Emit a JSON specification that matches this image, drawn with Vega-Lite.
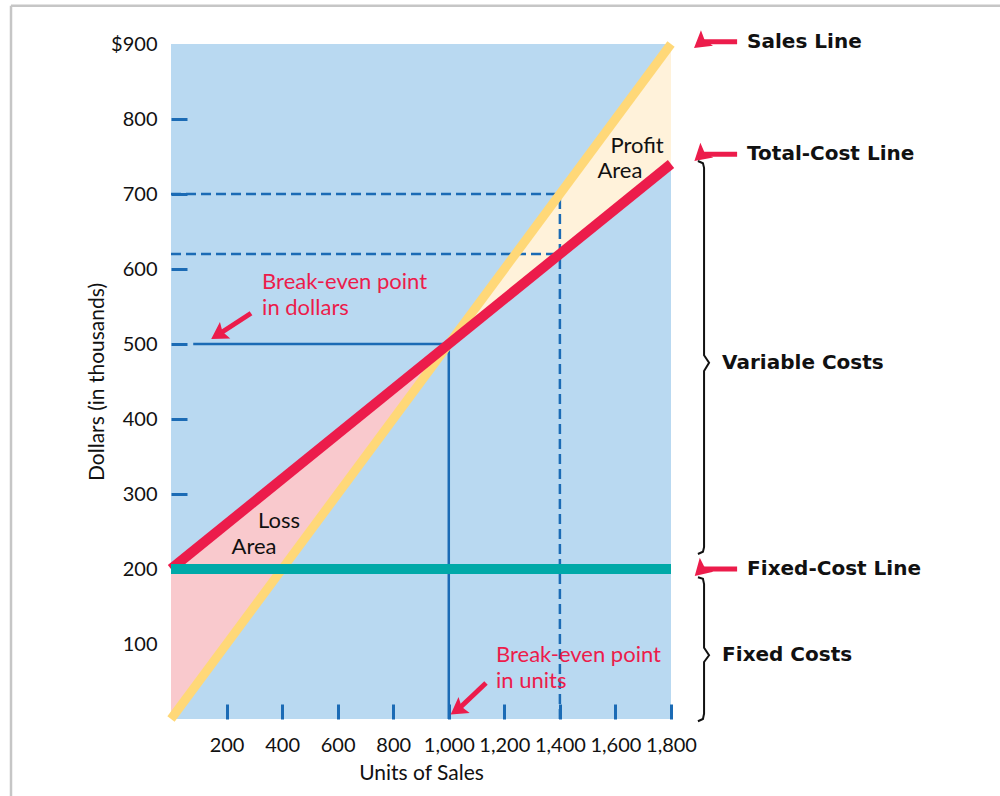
{
  "$schema": "https://vega.github.io/schema/vega-lite/v6.json",
  "autosize": "none",
  "width": 500,
  "height": 675,
  "padding": {"left": 171, "top": 44, "right": 329, "bottom": 77},
  "background": "white",
  "config": {
    "view": {"fill": "#B9D9F1", "stroke": null},
    "font": "Lato",
    "text": {"font": "Lato"}
  },
  "encoding": {
    "x": {
      "field": "units", "type": "quantitative",
      "scale": {"domain": [0, 1800], "nice": false, "zero": false},
      "axis": {
        "values": [200, 400, 600, 800, 1000, 1200, 1400, 1600, 1800],
        "format": ",.0f",
        "labelOverlap": false, "labelFlush": false, "labelBound": false,
        "domain": false, "grid": false,
        "tickColor": "#1B6BB5", "tickWidth": 3, "tickSize": -15,
        "labelPadding": 31, "labelFont": "Lato", "labelFontSize": 20, "labelColor": "#111",
        "title": "Units of Sales", "titleFont": "Lato", "titleFontSize": 21, "titleFontWeight": "normal",
        "titleColor": "#111", "titlePadding": 7
      }
    },
    "y": {
      "field": "dollars", "type": "quantitative",
      "scale": {"domain": [0, 900], "nice": false, "zero": false},
      "axis": {
        "values": [100, 200, 300, 400, 500, 600, 700, 800, 900],
        "labelExpr": "datum.value === 900 ? '$900' : datum.label",
        "labelOverlap": false, "labelFlush": false, "labelBound": false,
        "domain": false, "grid": false,
        "tickColor": "#1B6BB5", "tickWidth": 3, "tickSize": -16,
        "tickOpacity": {"condition": {"test": "datum.value === 900", "value": 0}, "value": 1},
        "labelPadding": 30, "labelFont": "Lato", "labelFontSize": 20, "labelColor": "#111",
        "title": "Dollars (in thousands)", "titleFont": "Lato", "titleFontSize": 21, "titleFontWeight": "normal",
        "titleColor": "#111", "titlePadding": 3
      }
    }
  },
  "layer": [
    {
      "data": {"values": [
        {"region": "Loss", "units": 0, "sales": 0, "cost": 200},
        {"region": "Loss", "units": 1000, "sales": 500, "cost": 500},
        {"region": "Profit", "units": 1000, "sales": 500, "cost": 500},
        {"region": "Profit", "units": 1800, "sales": 900, "cost": 740}
      ]},
      "mark": {"type": "area", "stroke": null},
      "encoding": {
        "y": {"field": "sales", "type": "quantitative", "stack": null},
        "y2": {"field": "cost"},
        "color": {"field": "region", "type": "nominal",
          "scale": {"domain": ["Loss", "Profit"], "range": ["#F9C9CD", "#FFF2DA"]}, "legend": null},
        "detail": {"field": "region"}
      }
    },
    {
      "data": {"values": [
        {"units": 0, "units2": 1400, "dollars": 700, "dollars2": 700},
        {"units": 0, "units2": 1400, "dollars": 620, "dollars2": 620},
        {"units": 1400, "units2": 1400, "dollars": 0, "dollars2": 700}
      ]},
      "mark": {"type": "rule", "color": "#1B6BB5", "strokeWidth": 2.5, "strokeDash": [10, 5]},
      "encoding": {"x2": {"field": "units2"}, "y2": {"field": "dollars2"}}
    },
    {
      "data": {"values": [
        {"units": 80, "units2": 1000, "dollars": 500, "dollars2": 500},
        {"units": 1000, "units2": 1000, "dollars": 0, "dollars2": 500}
      ]},
      "mark": {"type": "rule", "color": "#1B6BB5", "strokeWidth": 2.5},
      "encoding": {"x2": {"field": "units2"}, "y2": {"field": "dollars2"}}
    },
    {
      "data": {"values": [
        {"series": "Sales", "units": 0, "dollars": 0},
        {"series": "Sales", "units": 1800, "dollars": 900}
      ]},
      "mark": {"type": "line", "color": "#FFD878", "strokeWidth": 9, "strokeCap": "butt"},
      "encoding": {}
    },
    {
      "data": {"values": [
        {"series": "Total cost", "units": 0, "dollars": 200},
        {"series": "Total cost", "units": 1800, "dollars": 740}
      ]},
      "mark": {"type": "line", "color": "#EC1C4B", "strokeWidth": 10, "strokeCap": "butt"},
      "encoding": {}
    },
    {
      "data": {"values": [
        {"series": "Fixed cost", "units": 0, "dollars": 200},
        {"series": "Fixed cost", "units": 1800, "dollars": 200}
      ]},
      "mark": {"type": "line", "color": "#00A9A8", "strokeWidth": 10, "strokeCap": "butt"},
      "encoding": {}
    },
    {
      "data": {"values": [
        {"arrow": "dollars", "units": 176, "dollars": 514, "units2": 288, "dollars2": 541},
        {"arrow": "units", "units": 1037, "dollars": 14, "units2": 1134, "dollars2": 48},
        {"arrow": "sales", "units": 1912, "dollars": 903, "units2": 2038, "dollars2": 903},
        {"arrow": "total", "units": 1912, "dollars": 753, "units2": 2038, "dollars2": 753},
        {"arrow": "fixed", "units": 1912, "dollars": 200, "units2": 2038, "dollars2": 200}
      ]},
      "layer": [
        {
          "mark": {"type": "rule", "color": "#EC1C4B", "strokeWidth": 5},
          "encoding": {"x2": {"field": "units2"}, "y2": {"field": "dollars2"}}
        },
        {
          "mark": {"type": "point", "shape": "M -1 0 L 0.6 -0.95 L 0.3 0 L 0.6 0.95 Z", "filled": true,
            "color": "#EC1C4B", "opacity": 1, "size": 420},
          "encoding": {
            "angle": {"field": "arrow", "type": "nominal",
              "scale": {"domain": ["dollars", "units", "sales", "total", "fixed"], "range": [-32, -44, 0, 0, 0]},
              "legend": null}
          }
        }
      ]
    },
    {
      "data": {"values": [
        {"brace": "variable", "i": 1, "units": 1897, "dollars": 744},
        {"brace": "variable", "i": 2, "units": 1915, "dollars": 741},
        {"brace": "variable", "i": 3, "units": 1919, "dollars": 735},
        {"brace": "variable", "i": 4, "units": 1919, "dollars": 485},
        {"brace": "variable", "i": 5, "units": 1937, "dollars": 475},
        {"brace": "variable", "i": 6, "units": 1919, "dollars": 464},
        {"brace": "variable", "i": 7, "units": 1919, "dollars": 229},
        {"brace": "variable", "i": 8, "units": 1915, "dollars": 223},
        {"brace": "variable", "i": 9, "units": 1897, "dollars": 220},
        {"brace": "fixed", "i": 1, "units": 1897, "dollars": 189},
        {"brace": "fixed", "i": 2, "units": 1915, "dollars": 187},
        {"brace": "fixed", "i": 3, "units": 1919, "dollars": 180},
        {"brace": "fixed", "i": 4, "units": 1919, "dollars": 95},
        {"brace": "fixed", "i": 5, "units": 1937, "dollars": 85},
        {"brace": "fixed", "i": 6, "units": 1919, "dollars": 76},
        {"brace": "fixed", "i": 7, "units": 1919, "dollars": 7},
        {"brace": "fixed", "i": 8, "units": 1915, "dollars": 0},
        {"brace": "fixed", "i": 9, "units": 1897, "dollars": -3}
      ]},
      "mark": {"type": "line", "color": "#111", "strokeWidth": 2},
      "encoding": {"detail": {"field": "brace"}, "order": {"field": "i", "type": "quantitative"}}
    },
    {
      "data": {"values": [
        {"label": "Break-even point", "units": 328, "dollars": 583},
        {"label": "in dollars", "units": 328, "dollars": 548},
        {"label": "Break-even point", "units": 1170, "dollars": 85},
        {"label": "in units", "units": 1170, "dollars": 51}
      ]},
      "mark": {"type": "text", "align": "left", "baseline": "middle", "fontSize": 22, "color": "#EC1C4B", "font": "Lato"},
      "encoding": {"text": {"field": "label"}}
    },
    {
      "data": {"values": [
        {"label": "Loss", "units": 389, "dollars": 264},
        {"label": "Area", "units": 299, "dollars": 229},
        {"label": "Profit", "units": 1678, "dollars": 764},
        {"label": "Area", "units": 1616, "dollars": 731}
      ]},
      "mark": {"type": "text", "align": "center", "baseline": "middle", "fontSize": 22, "color": "#111", "font": "Lato"},
      "encoding": {"text": {"field": "label"}}
    },
    {
      "data": {"values": [
        {"label": "Sales Line", "units": 2074, "dollars": 903},
        {"label": "Total-Cost Line", "units": 2074, "dollars": 753},
        {"label": "Fixed-Cost Line", "units": 2074, "dollars": 200},
        {"label": "Variable Costs", "units": 1984, "dollars": 475},
        {"label": "Fixed Costs", "units": 1984, "dollars": 85}
      ]},
      "mark": {"type": "text", "align": "left", "baseline": "middle", "fontSize": 20, "fontWeight": "bold", "color": "#111", "font": "DejaVu Sans"},
      "encoding": {"text": {"field": "label"}}
    },
    {
      "data": {"values": [
        {"edge": "top", "units": -576, "units2": 2990, "dollars": 951, "dollars2": 951},
        {"edge": "left", "units": -576, "units2": -576, "dollars": 951, "dollars2": -110}
      ]},
      "mark": {"type": "rule", "color": "#C6C6C6", "strokeWidth": 2.5},
      "encoding": {"x2": {"field": "units2"}, "y2": {"field": "dollars2"}}
    }
  ]
}
